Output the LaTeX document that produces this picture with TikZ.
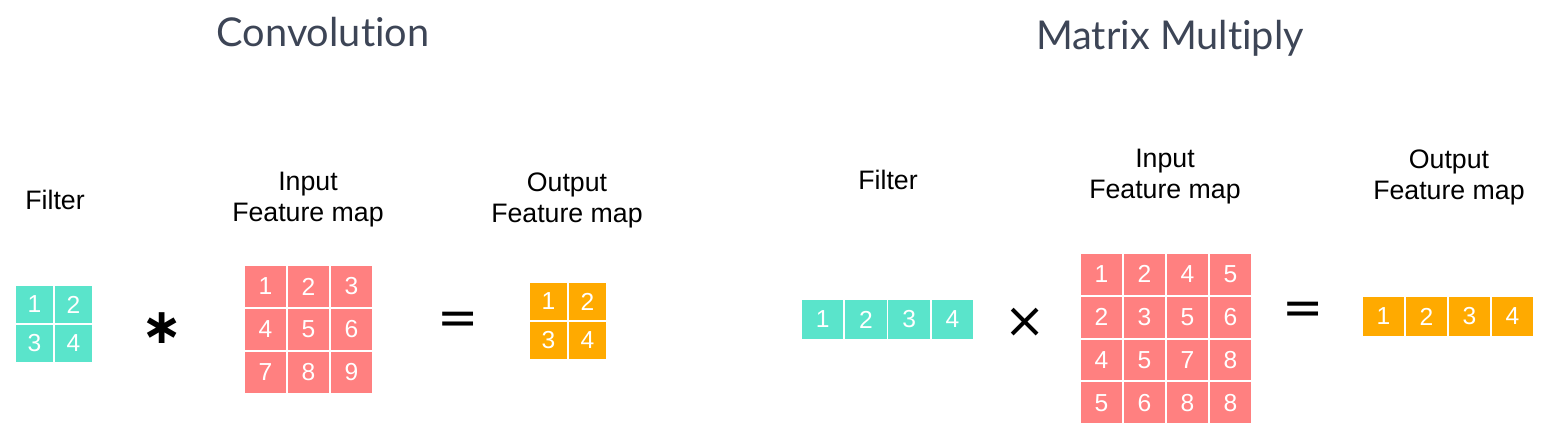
\documentclass[tikz,border=0pt]{standalone}
\usepackage{fontspec}
\setmainfont{Liberation Sans}
\newfontfamily\titlefont[Ligatures=NoCommon]{Lato}
\newfontfamily\symfont{DejaVu Sans}
\usetikzlibrary{positioning}
\definecolor{filtcol}{RGB}{90,228,203}
\definecolor{incol}{RGB}{255,128,128}
\definecolor{outcol}{RGB}{255,170,0}
\definecolor{titlecol}{RGB}{61,69,86}
\tikzset{
  cell/.style={draw=white, line width=1.1pt, text=white, inner sep=0pt,
    font=\fontsize{14}{14}\selectfont},
  lbl/.style={align=center, font=\fontsize{15.2}{17.6}\selectfont},
  ttl/.style={text=titlecol, font=\titlefont\fontsize{22.6}{26}\selectfont},
  oper/.style={inner sep=0pt, font=\symfont\fontsize{28}{28}\selectfont}
}

\begin{document}
\begin{tikzpicture}[x=0.2mm, y=-0.2mm]
  \useasboundingbox (0,0) rectangle (1543,430);
  % titles
  \node[ttl] (tconv) at (323,32) {Convolution};
  \node[ttl] (tmat) at (1170,38) {Matrix Multiply};
  % convolution
  \node[lbl] (lcf) at (55,200) {Filter};
  \node[lbl] (lci) at (308,200) {Input\\Feature map};
  \node[lbl] (lco) at (567,200) {Output\\Feature map};
  \foreach \r in {0,1} {
    \foreach \c in {0,1} {
      \pgfmathtruncatemacro\n{2*\r+\c+1}
      \node[cell, fill=filtcol, minimum size=7.8mm] (cf\n) at (34.5+39*\c, 304.5+39*\r) {\n};
      \node[cell, fill=outcol, minimum size=7.8mm] (co\n) at (548.5+39*\c, 301.5+39*\r) {\n};
    }
  }
  \foreach \r in {0,1,2} {
    \foreach \c in {0,1,2} {
      \pgfmathtruncatemacro\n{3*\r+\c+1}
      \node[cell, fill=incol, minimum size=8.6mm] (ci\n) at (265.5+43*\c, 286.5+43*\r) {\n};
    }
  }
  \node[oper] (cstar) at (162,328) {\bfseries ∗};
  \node[oper] (ceq) at (458,323) {=};
  % matrix multiply
  \node[lbl] (lmf) at (888,180) {Filter};
  \node[lbl] (lmi) at (1165,177) {Input\\Feature map};
  \node[lbl] (lmo) at (1449,177) {Output\\Feature map};
  \foreach \n [count=\c from 0] in {1,2,3,4} {
    \node[cell, fill=filtcol, minimum width=8.65mm, minimum height=8.2mm] (mf\n) at (822.6+43.25*\c, 319.5) {\n};
    \node[cell, fill=outcol, minimum width=8.6mm, minimum height=8.2mm] (mo\n) at (1383.5+43*\c, 316.5) {\n};
  }
  \foreach \row [count=\r from 0] in {{1,2,4,5},{2,3,5,6},{4,5,7,8},{5,6,8,8}} {
    \foreach \v [count=\c from 0] in \row {
      \node[cell, fill=incol, minimum width=8.6mm, minimum height=8.55mm] (mi\r\c) at (1101.5+43*\c, 274.4+42.75*\r) {\v};
    }
  }
  \node[oper] (mtimes) at (1025,323) {×};
  \node[oper] (meq) at (1303,313) {=};
\end{tikzpicture}
\end{document}
